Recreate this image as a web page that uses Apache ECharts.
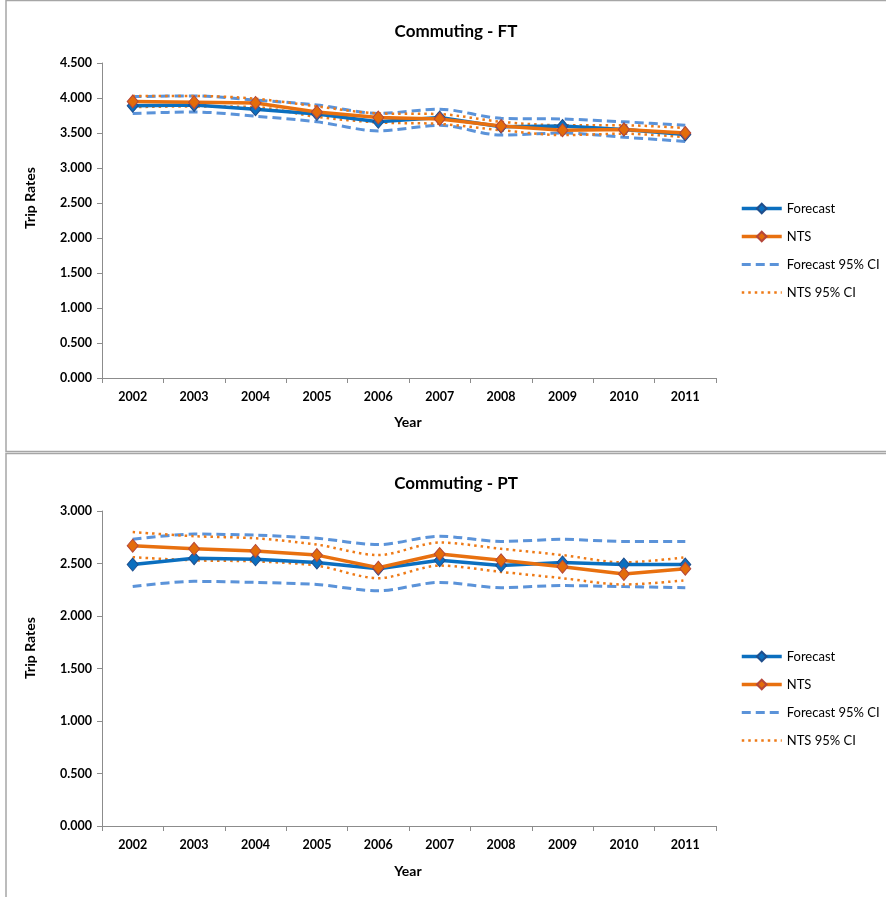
<!DOCTYPE html>
<html><head><meta charset="utf-8">
<script src="https://cdn.jsdelivr.net/npm/echarts@6/dist/echarts.min.js"></script>
<style>html,body{margin:0;padding:0;background:#fff}#c{width:886px;height:897px}</style>
</head><body><div id="c"></div>
<script>
var years = ['2002','2003','2004','2005','2006','2007','2008','2009','2010','2011'];
var seriesNames = ['Forecast','NTS','Forecast 95% CI','NTS 95% CI'];
// Commuting - FT
var ftForecast   = [3.89,3.90,3.84,3.77,3.66,3.72,3.59,3.60,3.55,3.48];
var ftNTS        = [3.95,3.94,3.93,3.80,3.72,3.70,3.60,3.54,3.55,3.50];
var ftForecastHi = [4.02,4.03,3.97,3.90,3.78,3.84,3.71,3.70,3.66,3.61];
var ftForecastLo = [3.78,3.80,3.74,3.66,3.53,3.61,3.47,3.50,3.44,3.38];
var ftNTSHi      = [4.03,4.03,3.99,3.88,3.78,3.77,3.66,3.61,3.61,3.57];
var ftNTSLo      = [3.87,3.88,3.87,3.73,3.65,3.63,3.54,3.47,3.49,3.44];
// Commuting - PT
var ptForecast   = [2.49,2.55,2.54,2.51,2.45,2.53,2.48,2.51,2.49,2.49];
var ptNTS        = [2.67,2.64,2.62,2.58,2.46,2.59,2.53,2.47,2.40,2.45];
var ptForecastHi = [2.73,2.78,2.77,2.74,2.68,2.76,2.71,2.73,2.71,2.71];
var ptForecastLo = [2.28,2.33,2.32,2.30,2.24,2.32,2.27,2.29,2.28,2.27];
var ptNTSHi      = [2.80,2.76,2.74,2.68,2.58,2.70,2.64,2.58,2.51,2.56];
var ptNTSLo      = [2.56,2.53,2.52,2.48,2.36,2.48,2.42,2.36,2.30,2.34];
var ftTicks = {min:0, max:4.5, interval:0.5};
var ptTicks = {min:0, max:3, interval:0.5};

var FONT = 'Lato, "Open Sans", sans-serif';
var blue = '#0B6FBF', orange = '#E8700F', ciBlue = '#5B93D9', ciOrange = '#EE7A16';
var ciBlueDash = [9,5], ciOrangeDot = [2.5,4];

function mk(idx, fc, nts, fhi, flo, nhi, nlo){
  var base = {type:'line', xAxisIndex:idx, yAxisIndex:idx, animation:false};
  return [
    Object.assign({}, base, {name:'Forecast', data:fc, symbol:'diamond', symbolSize:[11,13], z:5,
      lineStyle:{color:blue,width:3.5}, itemStyle:{color:blue,borderColor:'#1F4E8C',borderWidth:1}}),
    Object.assign({}, base, {name:'NTS', data:nts, symbol:'diamond', symbolSize:[11,13], z:6,
      lineStyle:{color:orange,width:3.5}, itemStyle:{color:'#E36C0A',borderColor:'#B5473A',borderWidth:1}}),
    Object.assign({}, base, {name:'Forecast 95% CI', data:fhi, symbol:'none', smooth:0.3, z:3,
      lineStyle:{color:ciBlue,width:3,type:ciBlueDash}, itemStyle:{color:ciBlue}}),
    Object.assign({}, base, {name:'Forecast 95% CI', data:flo, symbol:'none', smooth:0.3, z:3,
      lineStyle:{color:ciBlue,width:3,type:ciBlueDash}, itemStyle:{color:ciBlue}}),
    Object.assign({}, base, {name:'NTS 95% CI', data:nhi, symbol:'none', smooth:0.3, z:4,
      lineStyle:{color:ciOrange,width:2.5,type:ciOrangeDot}, itemStyle:{color:ciOrange}}),
    Object.assign({}, base, {name:'NTS 95% CI', data:nlo, symbol:'none', smooth:0.3, z:4,
      lineStyle:{color:ciOrange,width:2.5,type:ciOrangeDot}, itemStyle:{color:ciOrange}})
  ];
}
function xAx(idx){
  return {type:'category', gridIndex:idx, data:years, boundaryGap:true,
    axisLine:{lineStyle:{color:'#8c8c8c',width:1}},
    axisTick:{show:true, alignWithLabel:false, length:5, lineStyle:{color:'#8c8c8c'}},
    axisLabel:{color:'#000', fontFamily:FONT, fontWeight:'bold', fontSize:12.5, margin:12},
    splitLine:{show:false}};
}
function yAx(idx, t){
  return {type:'value', gridIndex:idx, min:t.min, max:t.max, interval:t.interval,
    axisLine:{show:true, lineStyle:{color:'#8c8c8c',width:1}},
    axisTick:{show:true, length:5, lineStyle:{color:'#8c8c8c'}},
    axisLabel:{color:'#000', fontFamily:FONT, fontWeight:'bold', fontSize:12.5, margin:10,
      formatter:function(v){return v.toFixed(3);}},
    splitLine:{show:false}};
}
function leg(top){
  return {orient:'vertical', left:740, top:top, padding:0, itemWidth:40, itemHeight:12, itemGap:15,
    data:[
      {name:'Forecast', lineStyle:{width:3.5}},
      {name:'NTS', lineStyle:{width:3.5}},
      {name:'Forecast 95% CI', lineStyle:{width:3, type:ciBlueDash}, itemStyle:{opacity:0}},
      {name:'NTS 95% CI', lineStyle:{width:2.5, type:ciOrangeDot}, itemStyle:{opacity:0}}
    ],
    textStyle:{color:'#000', fontFamily:FONT, fontSize:13}, selectedMode:false};
}
var txt = function(x,y,s,size,rot){
  return {type:'text', x:x, y:y, rotation:rot||0, style:{text:s, fill:'#000', font:'bold '+size+'px '+FONT, align:'center', verticalAlign:'middle'}};
};
var option = {
  backgroundColor:'#fff',
  title:[
    {text:'Commuting - FT', left:451, top:18, textAlign:'center', textStyle:{fontFamily:FONT, fontWeight:'bold', fontSize:17, color:'#000'}},
    {text:'Commuting - PT', left:451, top:470, textAlign:'center', textStyle:{fontFamily:FONT, fontWeight:'bold', fontSize:17, color:'#000'}}
  ],
  legend:[leg(202), leg(650)],
  grid:[
    {left:102, top:63, width:614, height:315},
    {left:102, top:511, width:614, height:315}
  ],
  xAxis:[xAx(0), xAx(1)],
  yAxis:[yAx(0, ftTicks), yAx(1, ptTicks)],
  series: mk(0, ftForecast, ftNTS, ftForecastHi, ftForecastLo, ftNTSHi, ftNTSLo)
    .concat(mk(1, ptForecast, ptNTS, ptForecastHi, ptForecastLo, ptNTSHi, ptNTSLo)),
  graphic:[
    {type:'rect', shape:{x:6, y:0.5, width:892, height:451}, style:{fill:'none', stroke:'#a6a6a6', lineWidth:1.5}, silent:true},
    {type:'rect', shape:{x:6, y:453.5, width:892, height:460}, style:{fill:'none', stroke:'#a6a6a6', lineWidth:1.5}, silent:true},
    txt(30, 198, 'Trip Rates', 14, Math.PI/2),
    txt(408, 422, 'Year', 14),
    txt(30, 648, 'Trip Rates', 14, Math.PI/2),
    txt(408, 871, 'Year', 14)
  ]
};
var chart = echarts.init(document.getElementById('c'), null, {renderer:'canvas'});
chart.setOption(option);
</script></body></html>
